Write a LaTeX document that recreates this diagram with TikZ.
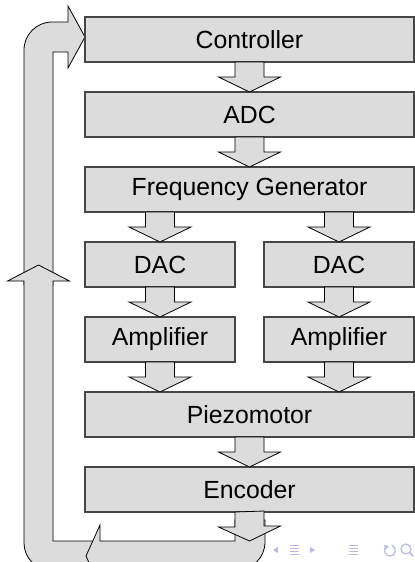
\documentclass[tikz,border=0pt]{standalone}
\usepackage{fontspec}
\setmainfont{Liberation Sans}
\usetikzlibrary{calc}
\definecolor{boxfill}{RGB}{220,220,220}
\definecolor{boxline}{RGB}{70,70,70}
\definecolor{navcol}{RGB}{185,185,228}
\newcommand\blockarr[3]{\draw[barrow] ($(#1.south -| #3)+(-14.5,0)$) -- ++(0,15) -- ++(-16.5,0) -- (#2.north -| #3) -- ++(31,-15) -- ++(-16.5,0) -- ++(0,-15) -- cycle;}
\begin{document}
\begin{tikzpicture}[x=0.5pt,y=-0.5pt,
  blk/.style={draw=boxline, fill=boxfill, line width=0.6pt, minimum height=22.5pt,
              inner sep=0pt, outer sep=0pt, font=\fontsize{12.4}{14}\selectfont},
  wide/.style={blk, minimum width=164.5pt},
  half/.style={blk, minimum width=75pt},
  barrow/.style={draw=black, fill=boxfill, line width=0.4pt, line join=miter},
  pt0/.style={inner sep=0pt, outer sep=0pt, minimum size=0pt}]
\clip (0,0) rectangle (415,562);
\fill[white] (0,0) rectangle (415,562);

% feedback loop (drawn underneath)
\coordinate (ctrltip) at (85,37);
\draw[barrow] (53,285) -- (53,52) -- (68,52) -- (68,68) -- (ctrltip) -- (68,6) -- (68,22) -- (52,22)
   arc[start angle=90,end angle=180,radius=14pt] -- (24,285) -- cycle;
\coordinate (uptip) at (38.5,265);
\draw[barrow] (100,541) -- (53,541) -- (53,281) -- (69.5,281) -- (uptip) -- (7.5,281) -- (24,281) -- (24,543)
   arc[start angle=180,end angle=270,radius=13.5pt] -- (100,570) -- cycle;
\coordinate (lefttip) at (86,556);
\draw[barrow] (235,520) -- (235,541) -- (100,541) -- (100,525) -- (lefttip) -- (100,587) -- (100,570) -- (237,570)
   arc[start angle=270,end angle=360,radius=14pt] -- (265,520) -- cycle;

% boxes
\node[wide] (ctrl) at (249.5,39.5) {Controller};
\node[wide] (adc)  at (249.5,114.5) {ADC};
\node[wide] (fg)   at (249.5,189.5) {Frequency Generator};
\node[half] (dacl) at (160,264.5) {DAC};
\node[half] (dacr) at (339,264.5) {DAC};
\node[half] (ampl) at (160,339.5) {Amplifier};
\node[half] (ampr) at (339,339.5) {Amplifier};
\node[wide] (pz)   at (249.5,414.5) {Piezomotor};
\node[wide] (enc)  at (249.5,489.5) {Encoder};
\node[pt0] (enctip) at (249.5,541) {};

% arrows between boxes
\blockarr{ctrl}{adc}{adc}
\blockarr{adc}{fg}{fg}
\blockarr{fg}{dacl}{dacl}
\blockarr{fg}{dacr}{dacr}
\blockarr{dacl}{ampl}{ampl}
\blockarr{dacr}{ampr}{ampr}
\blockarr{ampl}{pz}{ampl}
\blockarr{ampr}{pz}{ampr}
\blockarr{pz}{enc}{enc}
\blockarr{enc}{enctip}{enctip}

% navigation symbols
\begin{scope}[navcol]
  \fill (273,550) -- (278,547) -- (278,553) -- cycle;
  \foreach \yy in {545.5,548.5,551.5,554.5} \draw[line width=0.7pt] (290,\yy) -- (299,\yy);
  \fill (315,550) -- (310,547) -- (310,553) -- cycle;
  \foreach \yy in {545.5,548.5,551.5,554.5} \draw[line width=0.7pt] (349,\yy) -- (358,\yy);
  \draw[line width=0.6pt] (386,547) .. controls (382,550) and (386,557) .. (391,556) .. controls (396,555) and (397,548) .. (392,545);
  \fill (384,545) -- (389,546) -- (385,550) -- cycle;
  \draw[line width=0.6pt] (406,549) circle[radius=2.5pt];
  \draw[line width=0.8pt] (409.5,552.5) -- (413,556);
\end{scope}
\end{tikzpicture}
\end{document}
